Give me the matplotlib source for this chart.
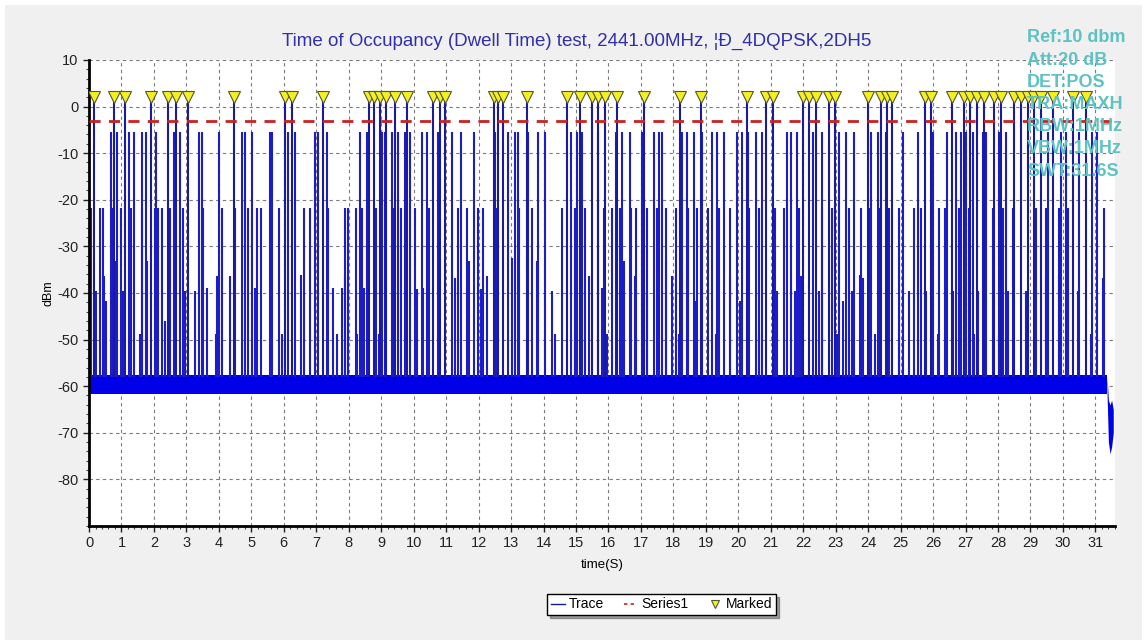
import numpy as np
import matplotlib
matplotlib.use('Agg')
from matplotlib import pyplot as plt
from matplotlib.lines import Line2D
from matplotlib.patches import Rectangle
from matplotlib.ticker import MultipleLocator

plt.rcParams['font.family'] = ['Liberation Sans', 'DejaVu Sans']
plt.rcParams['axes.unicode_minus'] = False

title = 'Time of Occupancy (Dwell Time) test, 2441.00MHz, ¦Ð_4DQPSK,2DH5'
info_lines = ['Ref:10 dbm', 'Att:20 dB', 'DET:POS', 'TRA:MAXH',
              'RBW:1MHz', 'VBW:1MHz', 'SWT:31.6S']

# spikes that reach the marker level (time in s)
marked_t = [0.15, 0.77, 1.12, 1.90, 2.43, 2.67, 3.05, 4.47, 6.03, 6.24, 7.22,
            8.61, 8.79, 8.95, 9.16, 9.43, 9.79, 10.61, 10.80, 10.97, 12.47,
            12.59, 12.74, 13.49, 14.72, 15.13, 15.49, 15.68, 15.88, 16.27,
            17.09, 18.20, 18.86, 20.26, 20.84, 21.07, 22.00, 22.18, 22.38,
            22.80, 22.98, 23.98, 24.40, 24.57, 24.74, 25.75, 25.94, 26.57,
            26.96, 27.15, 27.34, 27.58, 27.89, 28.10, 28.48, 28.71, 28.92,
            29.12, 29.33, 29.69, 30.30, 30.72]
marked_peak = 1.5
marker_level = 2.0

# tall spikes (~ -5.5 dBm)
tall_t = [0.67, 0.87, 1.23, 1.38, 1.63, 1.77, 2.06, 2.61, 2.80, 3.39, 3.47,
          4.00, 4.72, 4.80, 5.01, 5.57, 5.65, 6.13, 6.34, 6.95, 7.05, 7.34,
          8.35, 8.56, 9.02, 9.12, 9.33, 9.53, 9.72, 9.89, 10.27, 10.41, 10.75,
          11.18, 11.46, 11.87, 12.51, 12.92, 13.11, 13.21, 13.52, 13.83,
          14.05, 14.85, 15.03, 15.18, 15.68, 16.22, 16.43, 16.65, 17.02,
          17.40, 17.56, 17.64, 18.27, 18.43, 18.63, 18.89, 19.20, 19.35,
          19.56, 19.97, 20.12, 20.31, 20.53, 20.72, 21.51, 21.61, 21.82,
          22.30, 22.57, 23.10, 23.31, 23.56, 24.09, 24.29, 24.55, 25.06,
          25.53, 26.01, 26.43, 26.71, 26.86, 27.00, 27.22, 27.53, 27.64,
          28.02, 28.25, 29.53, 29.95, 30.10, 30.51, 30.90, 31.04]
tall_peak = -5.5

# medium spikes (~ -22 dBm)
mid_t = [0.07, 0.33, 0.43, 0.71, 1.00, 1.28, 1.64, 2.02, 2.13, 2.25, 2.49,
         2.90, 3.51, 4.10, 4.49, 4.90, 5.16, 5.31, 5.85, 6.63, 6.80, 7.37,
         7.88, 7.99, 8.22, 8.40, 8.84, 9.38, 9.61, 10.05, 10.46, 11.38,
         11.64, 11.98, 12.15, 12.56, 13.23, 13.64, 14.57, 14.98, 15.29,
         15.85, 16.12, 16.37, 16.68, 16.84, 17.20, 17.50, 17.76, 18.07,
         18.46, 18.74, 19.08, 19.41, 19.73, 20.33, 20.64, 21.13, 21.41,
         21.87, 22.59, 22.90, 23.41, 23.77, 24.04, 24.35, 24.65, 24.96,
         25.42, 25.63, 26.19, 26.38, 26.81, 27.12, 27.84, 28.15, 28.45,
         29.17, 29.48, 29.89, 30.15, 31.28]
mid_peak = -21.8

# low spikes (time, peak dBm)
low_t = [0.23, 0.46, 0.53, 0.84, 1.05, 1.56, 1.80, 2.33, 2.95, 3.26, 3.62,
         3.92, 3.95, 4.34, 5.11, 5.93, 6.54, 7.52, 7.65, 7.78, 7.89, 8.25,
         8.48, 8.92, 10.10, 10.30, 11.28, 11.71, 12.08, 12.26, 13.03, 13.80,
         14.26, 14.36, 14.96, 15.39, 15.80, 15.96, 16.48, 16.82, 17.20,
         17.76, 17.97, 18.17, 18.68, 19.30, 19.73, 20.04, 20.64, 21.20,
         21.75, 21.92, 22.49, 23.05, 23.21, 23.51, 23.74, 23.83, 24.22,
         24.96, 25.27, 25.78, 26.14, 26.60, 27.27, 27.37, 28.04, 28.30,
         28.87, 29.48, 29.89, 30.15, 30.46, 30.87, 31.23]
low_peak = [-39.6, -36.4, -41.8, -33.2, -39.6, -48.9, -33.2, -46.1, -39.6,
            -39.6, -38.9, -48.9, -36.4, -36.4, -38.9, -48.9, -36.1, -38.9,
            -48.9, -38.9, -36.4, -48.9, -38.9, -48.9, -39.2, -38.9, -36.7,
            -33.2, -39.2, -36.4, -32.5, -33.2, -39.6, -48.9, -48.9, -36.4,
            -38.9, -48.9, -33.2, -36.4, -39.6, -33.2, -36.4, -48.9, -41.8,
            -48.9, -36.4, -41.8, -48.9, -39.6, -39.6, -36.4, -39.6, -48.9,
            -41.8, -39.6, -36.1, -36.7, -48.9, -48.9, -39.6, -39.6, -48.9,
            -39.6, -48.9, -39.6, -48.9, -39.6, -39.6, -36.4, -36.4, -39.6,
            -39.6, -48.9, -36.7]

# noise floor band and the drop at the end of the sweep
floor_t = [0.0, 31.36]
floor_lo = [-61.7, -61.7]
floor_hi = [-57.5, -57.5]
tail_t = [31.36, 31.40, 31.45, 31.50, 31.55]
tail_lo = [-62.0, -72.0, -74.5, -73.0, -70.0]
tail_hi = [-58.0, -63.0, -64.0, -63.0, -65.0]

series1_level = -3.0

trace_color = '#1c1cc8'

fig = plt.figure(figsize=(11.47, 6.43), dpi=100, facecolor='white')
fig.patches.append(Rectangle((0.004, 0.004), 0.992, 0.988, transform=fig.transFigure,
                             facecolor='#f0f0f0', edgecolor='none', zorder=-10))
ax = fig.add_axes([0.0776, 0.182, 0.8944, 0.7248])
ax.set_facecolor('white')

# trace
ax.fill_between(floor_t, floor_lo, floor_hi, color='#0000e8', lw=0, zorder=2)
ax.fill_between(tail_t, tail_lo, tail_hi, color='#0000e8', lw=0, zorder=2)
ax.vlines(low_t, -58, low_peak, color=trace_color, lw=1.5, zorder=2)
ax.vlines(mid_t, -58, mid_peak, color=trace_color, lw=1.5, zorder=2)
ax.vlines(tall_t, -58, tall_peak, color=trace_color, lw=1.5, zorder=2)
ax.vlines(marked_t, -58, marked_peak, color='#1a1aa0', lw=1.5, zorder=2)

ax.axhline(series1_level, color='#cc2020', lw=2, dashes=(4, 3), zorder=3)
ax.plot(marked_t, [marker_level] * len(marked_t), ls='none', marker='v', ms=8,
        mfc='#f4f020', mec='#555533', mew=0.8, zorder=4)

ax.set_xlim(0, 31.6)
ax.set_ylim(-90, 10)
ax.set_xticks(range(0, 32))
ax.set_yticks(range(-80, 11, 10))
ax.xaxis.set_minor_locator(MultipleLocator(0.2))
ax.yaxis.set_minor_locator(MultipleLocator(2))
ax.grid(True, which='major', color='#7a7a7a', lw=0.8, ls=(0, (3, 3)))
for s in ['top', 'right']:
    ax.spines[s].set_visible(False)
for s in ['left', 'bottom']:
    ax.spines[s].set_linewidth(2)
ax.tick_params(which='major', length=4, width=1, labelsize=10.5, colors='#222222')
ax.tick_params(which='minor', length=2, width=0.8, colors='#444444')
ax.set_xlabel('time(S)', fontsize=9.5, labelpad=6)
ax.set_ylabel('dBm', fontsize=9, labelpad=2)

fig.text(0.503, 0.936, title, ha='center', va='center', fontsize=13.5, color='#2f2fb0')

for i, line in enumerate(info_lines):
    fig.text(0.8955, 0.941 - i * 0.0345, line, ha='left', va='center', fontsize=13,
             fontweight='bold', color='#5ec2c2', zorder=10)

handles = [Line2D([], [], color='#1a1a90', lw=1),
           Line2D([], [], color='#cc2020', lw=1.2, ls=(0, (2, 2))),
           Line2D([], [], ls='none', marker='v', ms=6, mfc='#f4f020', mec='#555533', mew=0.8)]
leg = fig.legend(handles, ['Trace', 'Series1', 'Marked'], loc='center',
                 bbox_to_anchor=(0.577, 0.06), ncol=3, fontsize=10, frameon=True,
                 fancybox=False, shadow=True, handlelength=1.0, handletextpad=0.3,
                 columnspacing=1.4, borderpad=0.25)
leg.get_frame().set_edgecolor('black')
leg.get_frame().set_linewidth(1)

fig.savefig('out.png', dpi=100, facecolor=fig.get_facecolor())
